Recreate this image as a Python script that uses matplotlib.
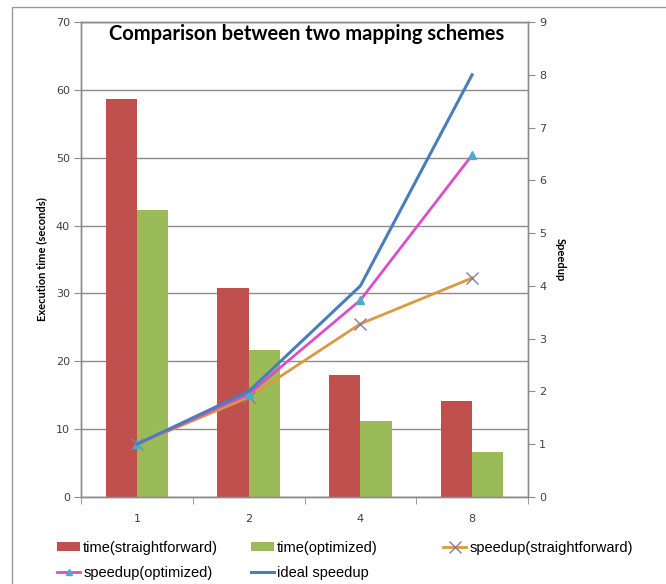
import matplotlib
matplotlib.use("Agg")
import matplotlib.pyplot as plt
import numpy as np
from matplotlib.patches import Rectangle, Patch
from matplotlib.lines import Line2D

# Thread counts and measured results
threads = ["1", "2", "4", "8"]
time_straightforward = [58.7, 30.8, 18.0, 14.1]
time_optimized = [42.3, 21.7, 11.2, 6.6]
speedup_straightforward = [1.0, 1.89, 3.28, 4.15]
speedup_optimized = [1.0, 1.95, 3.73, 6.48]
ideal_speedup = [1, 2, 4, 8]

RED = "#C0504D"
GREEN = "#9BBB59"
ORANGE = "#DA9A3E"
MAGENTA = "#D94FC8"
BLUE = "#4A7EBB"
GRID = "#8C8C8C"
TICK_TXT = "#404040"

fig = plt.figure(figsize=(6.66, 5.84), dpi=100)

# outer chart frame
fig.patches.append(Rectangle((12 / 666, -0.05), 1.2, 1.05 - 7 / 584, transform=fig.transFigure,
                             fill=False, edgecolor="#9a9a9a", linewidth=1.0))

ax = fig.add_axes([81 / 666, 1 - 497 / 584, (528 - 81) / 666, (497 - 22) / 584])
x = np.arange(len(threads))
w = 0.28
ax.bar(x - w / 2, time_straightforward, width=w, color=RED, zorder=2)
ax.bar(x + w / 2, time_optimized, width=w, color=GREEN, zorder=2)

ax.set_xlim(-0.5, len(threads) - 0.5)
ax.set_ylim(0, 70)
ax.set_yticks(np.arange(0, 71, 10))
ax.yaxis.grid(True, color=GRID, linewidth=1.0, zorder=0)
ax.set_axisbelow(True)
ax.set_xticks(x)
ax.set_xticklabels(threads)
ax.set_xticks(np.arange(-0.5, len(threads), 1.0), minor=True)
ax.tick_params(axis="x", which="major", length=0, pad=12, labelsize=8, labelcolor=TICK_TXT)
ax.tick_params(axis="x", which="minor", length=5, color=GRID, direction="out")
ax.tick_params(axis="y", length=5, color=GRID, labelsize=8, labelcolor=TICK_TXT, pad=3)
for s in ax.spines.values():
    s.set_color(GRID)
    s.set_linewidth(1.0)
ax.set_ylabel("Execution time (seconds)", fontsize=8, fontweight="bold",
              family=["Lato", "DejaVu Sans"], labelpad=6)

ax2 = ax.twinx()
ax2.set_ylim(0, 9)
ax2.set_yticks(np.arange(0, 10, 1))
ax2.tick_params(axis="y", length=5, color=GRID, labelsize=8, labelcolor=TICK_TXT, pad=3)
for s in ax2.spines.values():
    s.set_color(GRID)
    s.set_linewidth(1.0)
ax2.plot(x, speedup_straightforward, color=ORANGE, linewidth=2.0, marker="x",
         markersize=8, markeredgecolor="#8C7BA0", markeredgewidth=1.0, zorder=3)
ax2.plot(x, speedup_optimized, color=MAGENTA, linewidth=2.0, marker="^",
         markersize=6, markerfacecolor="#4BACC6", markeredgecolor="#4BACC6", zorder=4)
ax2.plot(x, ideal_speedup, color=BLUE, linewidth=2.2, zorder=5)
ax2.set_ylabel("Speedup", fontsize=8, fontweight="bold", rotation=270,
               family=["Lato", "DejaVu Sans"], labelpad=14)

ax.text(0.505, 0.995, "Comparison between two mapping schemes", transform=ax.transAxes,
        ha="center", va="top", fontsize=14.5, fontweight="bold", family=["Lato", "DejaVu Sans"],
        zorder=10)

h_ts = Patch(facecolor=RED, edgecolor="none")
h_to = Patch(facecolor=GREEN, edgecolor="none")
h_ss = Line2D([], [], color=ORANGE, linewidth=2.0, marker="x", markersize=8,
              markeredgecolor="#8C7BA0")
h_so = Line2D([], [], color=MAGENTA, linewidth=2.0, marker="^", markersize=5,
              markerfacecolor="#4BACC6", markeredgecolor="#4BACC6")
h_id = Line2D([], [], color=BLUE, linewidth=2.2)

# legend laid out in three evenly spaced columns
columns = [
    ([h_ts, h_so], ["time(straightforward)", "speedup(optimized)"], 57),
    ([h_to, h_id], ["time(optimized)", "ideal speedup"], 251),
    ([h_ss], ["speedup(straightforward)"], 443),
]
for hs, ls, x0 in columns:
    fig.legend(hs, ls, ncol=1, loc="upper left",
               bbox_to_anchor=(x0 / 666, 1 - 541 / 584),
               frameon=False, handlelength=1.6, handleheight=0.6, handletextpad=0.2,
               labelspacing=0.76, borderpad=0.0, borderaxespad=0.0,
               prop={"family": ["Liberation Sans", "DejaVu Sans"], "size": 10.5})

fig.savefig("out.png", dpi=100)
